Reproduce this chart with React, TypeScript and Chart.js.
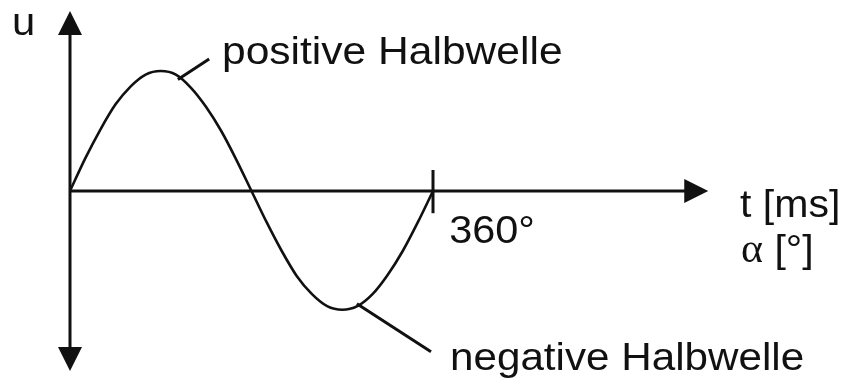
import React, { useEffect, useRef } from "react";
import { Chart, registerables } from "chart.js";

Chart.register(...registerables);

// Phase angle of each sample, in degrees
const angles: number[] = [
  0, 15, 30, 45, 60, 75, 90, 105, 120, 135, 150, 165, 180,
  195, 210, 225, 240, 255, 270, 285, 300, 315, 330, 345, 360,
];

// Voltage u (relative to the peak) at each angle
const voltage: number[] = [
  0, 0.27, 0.51, 0.72, 0.87, 0.97, 1.0, 0.97, 0.86, 0.7, 0.5, 0.26, 0,
  -0.26, -0.5, -0.71, -0.86, -0.96, -0.99, -0.96, -0.86, -0.7, -0.5, -0.26, 0,
];

// Marked angle on the time axis
const periodMark = 360;
const periodLabel = "360°";

// Axis captions and wave annotations
const yAxisLabel = "u";
const xAxisLabelTime = "t [ms]";
const xAxisLabelAngleSymbol = "α";
const xAxisLabelAngleUnit = " [°]";
const positiveLabel = "positive Halbwelle";
const negativeLabel = "negative Halbwelle";

const INK = "#111111";
const SANS = "'Liberation Sans', Arial, Helvetica, sans-serif";
const SERIF = "'Liberation Serif', 'Times New Roman', serif";

const diagramPlugin = {
  id: "diagram",
  afterDatasetsDraw(chart: Chart) {
    const ctx = chart.ctx;
    const xs = chart.scales.x;
    const ys = chart.scales.y;
    const px = (v: number) => xs.getPixelForValue(v);
    const py = (v: number) => ys.getPixelForValue(v);

    const x0 = px(0);
    const y0 = py(0);
    const yTop = py(ys.max as number);
    const yBot = py(ys.min as number);
    const xEnd = px(633);
    const head = 24;
    const half = 12;

    ctx.save();
    ctx.strokeStyle = INK;
    ctx.fillStyle = INK;
    ctx.lineWidth = 3;
    ctx.lineCap = "butt";

    // vertical axis
    ctx.beginPath();
    ctx.moveTo(x0, yTop + head - 2);
    ctx.lineTo(x0, yBot - head + 2);
    ctx.stroke();
    // horizontal axis
    ctx.beginPath();
    ctx.moveTo(x0, y0);
    ctx.lineTo(xEnd - head + 2, y0);
    ctx.stroke();

    // arrow heads
    const tri = (a: [number, number], b: [number, number], c: [number, number]) => {
      ctx.beginPath();
      ctx.moveTo(a[0], a[1]);
      ctx.lineTo(b[0], b[1]);
      ctx.lineTo(c[0], c[1]);
      ctx.closePath();
      ctx.fill();
    };
    tri([x0, yTop], [x0 - half, yTop + head], [x0 + half, yTop + head]);
    tri([x0, yBot], [x0 - half, yBot - head], [x0 + half, yBot - head]);
    tri([xEnd, y0], [xEnd - head, y0 - half], [xEnd - head, y0 + half]);

    // period tick
    ctx.beginPath();
    ctx.moveTo(px(periodMark), py(0.175));
    ctx.lineTo(px(periodMark), py(-0.185));
    ctx.stroke();

    // leader lines to the half waves
    ctx.beginPath();
    ctx.moveTo(px(107), py(0.93));
    ctx.lineTo(px(138), py(1.1));
    ctx.stroke();
    ctx.beginPath();
    ctx.moveTo(px(284.5), py(-0.94));
    ctx.lineTo(px(358), py(-1.34));
    ctx.stroke();

    // text
    const text = (s: string, x: number, y: number, font: string, stretch = 1.1) => {
      ctx.save();
      ctx.font = font;
      ctx.textBaseline = "alphabetic";
      ctx.textAlign = "left";
      ctx.translate(x, y);
      ctx.scale(stretch, 1);
      ctx.fillText(s, 0, 0);
      ctx.restore();
    };
    const f = `38px ${SANS}`;
    text(yAxisLabel, px(-57.5), py(1.3), f);
    text(positiveLabel, px(150.7), py(1.056), f, 1.12);
    text(periodLabel, px(376), py(-0.431), f, 1.09);
    text(xAxisLabelTime, px(664.5), py(-0.213), f, 1.08);
    text(xAxisLabelAngleSymbol, px(665.5), py(-0.59), `40px ${SERIF}`, 1.05);
    ctx.save();
    ctx.font = `40px ${SERIF}`;
    const aw = ctx.measureText(xAxisLabelAngleSymbol).width * 1.05;
    ctx.restore();
    text(xAxisLabelAngleUnit, px(665.5) + aw, py(-0.59), f, 1.08);
    text(negativeLabel, px(376.9), py(-1.49), f, 1.11);

    ctx.restore();
  },
};

export default function App() {
  const canvasRef = useRef<HTMLCanvasElement | null>(null);

  useEffect(() => {
    document.body.style.margin = "0";
    const canvas = canvasRef.current;
    if (!canvas) return;
    const chart = new Chart(canvas, {
      type: "line",
      data: {
        datasets: [
          {
            data: angles.map((a, i) => ({ x: a, y: voltage[i] })),
            borderColor: INK,
            borderWidth: 2.6,
            pointRadius: 0,
            cubicInterpolationMode: "monotone",
            fill: false,
          },
        ],
      },
      options: {
        animation: false,
        responsive: false,
        devicePixelRatio: 1,
        layout: { padding: { left: 70, right: 413, top: 11, bottom: 7 } },
        plugins: {
          legend: { display: false },
          tooltip: { enabled: false },
          title: { display: false },
        },
        scales: {
          x: { type: "linear", min: 0, max: 360, display: false },
          y: { type: "linear", min: -1.5, max: 1.5, display: false },
        },
        events: [],
      },
      plugins: [diagramPlugin],
    });
    return () => chart.destroy();
  }, []);

  return (
    <div style={{ width: 846, height: 378, background: "#ffffff" }}>
      <canvas ref={canvasRef} width={846} height={378} />
    </div>
  );
}
